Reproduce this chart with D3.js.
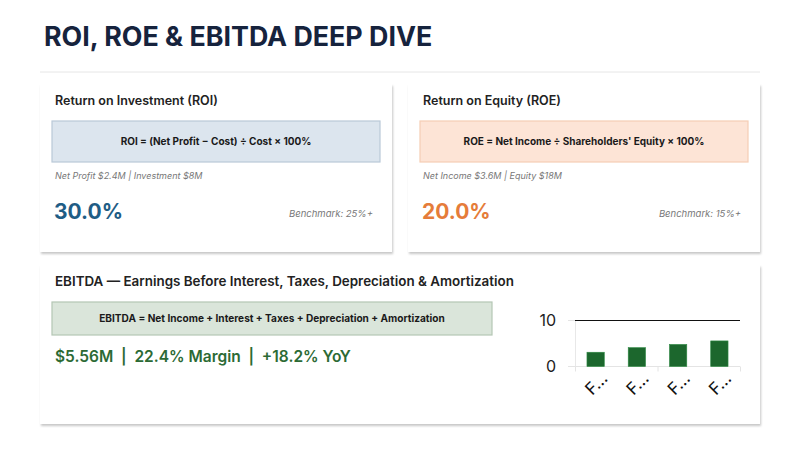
<!DOCTYPE html>
<html>
<head>
<meta charset="utf-8">
<script src="https://cdn.jsdelivr.net/npm/d3@7"></script>
<style>
  body { margin: 0; background: #fff; }
  svg text { font-family: Inter, "Noto Sans", sans-serif; }
</style>
</head>
<body>
<script>
// chart data
var years = ["FY2021", "FY2022", "FY2023", "FY2024"];
var ebitdaValues = [3.1, 4.1, 4.8, 5.56];
var yTicks = [0, 10];

// card texts
var cardTitles = ["Return on Investment (ROI)", "Return on Equity (ROE)",
    "EBITDA \u2014 Earnings Before Interest, Taxes, Depreciation & Amortization"];
var formulas = ["ROI = (Net Profit \u2212 Cost) \u00f7 Cost \u00d7 100%",
    "ROE = Net Income \u00f7 Shareholders' Equity \u00d7 100%",
    "EBITDA = Net Income + Interest + Taxes + Depreciation + Amortization"];
var inputs = ["Net Profit $2.4M | Investment $8M", "Net Income $3.6M | Equity $18M"];
var results = ["30.0%", "20.0%", "$5.56M  |  22.4% Margin  |  +18.2% YoY"];
var benchmarks = ["Benchmark: 25%+", "Benchmark: 15%+"];

function main(){
    var svg = d3.select("body").append("svg")
        .attr("width", 800)
        .attr("height", 450);

    var defs = svg.append("defs");
    var f = defs.append("filter").attr("id", "shadow")
        .attr("x", "-5%").attr("y", "-5%").attr("width", "110%").attr("height", "115%");
    f.append("feDropShadow").attr("dx", 1).attr("dy", 2).attr("stdDeviation", 1.2)
        .attr("flood-color", "#000").attr("flood-opacity", 0.22);

    // title
    svg.append("text")
        .attr("x", 44).attr("y", 46)
        .attr("font-size", "26.8px").attr("font-weight", 700)
        .attr("fill", "#16233d")
        .text("ROI, ROE & EBITDA DEEP DIVE");

    svg.append("line")
        .attr("x1", 40).attr("x2", 760).attr("y1", 72).attr("y2", 72)
        .attr("stroke", "#e6e6e6").attr("stroke-width", 1);

    // cards
    var cards = [
        {x: 40, y: 84, w: 352, h: 168},
        {x: 408, y: 84, w: 352, h: 168},
        {x: 40, y: 265, w: 720, h: 159}
    ];
    var boxStyles = [
        {fill: "#dce5ee", stroke: "#b9c9d8"},
        {fill: "#fde4d6", stroke: "#f6cdb4"},
        {fill: "#dae5da", stroke: "#b4c6b4"}
    ];
    var valueColors = ["#1f5d85", "#e57c3a", "#2c6a34"];

    cards.forEach(function(c, i){
        var g = svg.append("g").attr("transform", "translate(" + c.x + "," + c.y + ")");
        g.append("rect").attr("width", c.w).attr("height", c.h)
            .attr("fill", "#fff").attr("filter", "url(#shadow)");
        g.append("text").attr("x", 15).attr("y", 21)
            .attr("font-size", i < 2 ? "12.5px" : "13.4px").attr("font-weight", 600).attr("fill", "#222")
            .text(cardTitles[i]);

        var bw = i < 2 ? 328 : 440;
        var bh = i < 2 ? 41 : 33;
        var by = 37;
        g.append("rect").attr("x", 12).attr("y", by).attr("width", bw).attr("height", bh)
            .attr("fill", boxStyles[i].fill).attr("stroke", boxStyles[i].stroke).attr("stroke-width", 1.2);
        g.append("text").attr("x", 12 + bw / 2).attr("y", by + bh / 2 + 3.5)
            .attr("text-anchor", "middle")
            .attr("font-size", i < 2 ? "10px" : "10.1px").attr("font-weight", 700).attr("fill", "#1a1a1a")
            .text(formulas[i]);

        if (i < 2) {
            g.append("text").attr("x", 15).attr("y", 95)
                .attr("font-size", "9px").attr("font-style", "italic").attr("fill", "#777")
                .text(inputs[i]);
            g.append("text").attr("x", 14).attr("y", 135)
                .attr("font-size", "21px").attr("font-weight", 700).attr("fill", valueColors[i])
                .text(results[i]);
            g.append("text").attr("x", 333).attr("y", 133)
                .attr("text-anchor", "end")
                .attr("font-size", "9.5px").attr("font-style", "italic").attr("fill", "#777")
                .text(benchmarks[i]);
        } else {
            g.append("text").attr("x", 15).attr("y", 97)
                .attr("font-size", "15.5px").attr("font-weight", 600).attr("fill", valueColors[i])
                .style("white-space", "pre")
                .text(results[i]);
        }
    });

    // EBITDA bar chart
    var plotLeft = 575, plotRight = 740, plotTop = 320.5, plotBottom = 366.5;
    var xScale = d3.scaleBand().domain(years).range([plotLeft, plotRight])
        .paddingInner(0.58).paddingOuter(0.29);
    var yScale = d3.scaleLinear().domain([0, 10]).range([plotBottom, plotTop]);

    var chart = svg.append("g");

    // light grid at 0 and vertical axis line
    chart.append("line")
        .attr("x1", plotLeft - 7).attr("x2", plotRight)
        .attr("y1", yScale(0)).attr("y2", yScale(0))
        .attr("stroke", "#e4e4e4");
    chart.append("line")
        .attr("x1", plotLeft + 0.5).attr("x2", plotLeft + 0.5)
        .attr("y1", yScale(10)).attr("y2", yScale(0))
        .attr("stroke", "#e8e8e8");
    chart.append("line")
        .attr("x1", plotLeft - 7).attr("x2", plotLeft)
        .attr("y1", yScale(10)).attr("y2", yScale(10))
        .attr("stroke", "#e4e4e4");
    chart.append("line")
        .attr("x1", plotLeft).attr("x2", plotRight)
        .attr("y1", yScale(10)).attr("y2", yScale(10))
        .attr("stroke", "#111").attr("stroke-width", 1.2);

    // small ticks below the x baseline
    [0, 2, 4].forEach(function(k){
        var xx = plotLeft + k * xScale.step() + 0.5;
        chart.append("line")
            .attr("x1", xx).attr("x2", xx)
            .attr("y1", yScale(0)).attr("y2", yScale(0) + 5)
            .attr("stroke", "#e4e4e4");
    });

    chart.selectAll(".bar")
        .data(ebitdaValues)
        .enter().append("rect")
        .attr("class", "bar")
        .attr("x", function(d, i){ return xScale(years[i]); })
        .attr("y", function(d){ return yScale(d); })
        .attr("width", xScale.bandwidth())
        .attr("height", function(d){ return yScale(0) - yScale(d); })
        .attr("fill", "#1c672d")
        .attr("stroke", "#2f8a44").attr("stroke-width", 0.6);

    // y tick labels
    chart.selectAll(".ytick")
        .data(yTicks)
        .enter().append("text")
        .attr("class", "ytick")
        .attr("x", plotLeft - 19)
        .attr("y", function(d){ return yScale(d) + 5.5; })
        .attr("text-anchor", "end")
        .attr("font-size", "16px").attr("fill", "#222")
        .text(function(d){ return d; });

    // x tick labels (truncated, rotated)
    chart.selectAll(".xtick")
        .data(years)
        .enter().append("text")
        .attr("class", "xtick")
        .attr("transform", function(d){
            return "translate(" + (xScale(d) + xScale.bandwidth() / 2 + 13) + "," + (yScale(0) + 13) + ") rotate(-45)";
        })
        .attr("text-anchor", "end")
        .attr("font-size", "17px").attr("fill", "#111")
        .text(function(d){ return d.charAt(0) + "\u2026"; });
}
main();
</script>
</body>
</html>
